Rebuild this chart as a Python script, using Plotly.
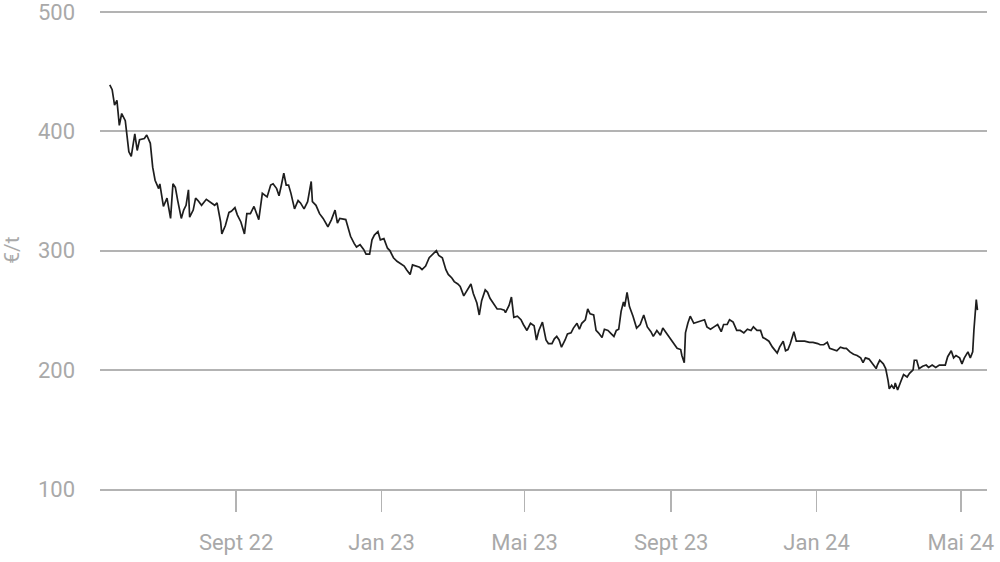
import plotly.graph_objects as go

dates = [
    "2022-05-18", "2022-05-20", "2022-05-22", "2022-05-24", "2022-05-26", "2022-05-28", "2022-05-31",
    "2022-06-03", "2022-06-05", "2022-06-08", "2022-06-10", "2022-06-12", "2022-06-16", "2022-06-18",
    "2022-06-21", "2022-06-23", "2022-06-25", "2022-06-28", "2022-06-29",
    "2022-07-02", "2022-07-05", "2022-07-08", "2022-07-10", "2022-07-12", "2022-07-14", "2022-07-17",
    "2022-07-19", "2022-07-21", "2022-07-23", "2022-07-24", "2022-07-27", "2022-07-29", "2022-07-31",
    "2022-08-03", "2022-08-07", "2022-08-10", "2022-08-14", "2022-08-16", "2022-08-19", "2022-08-20",
    "2022-08-23", "2022-08-26", "2022-08-28", "2022-08-31",
    "2022-09-02", "2022-09-05", "2022-09-08", "2022-09-10", "2022-09-13", "2022-09-16", "2022-09-18",
    "2022-09-20", "2022-09-23", "2022-09-27", "2022-09-30",
    "2022-10-02", "2022-10-05", "2022-10-07", "2022-10-09", "2022-10-11", "2022-10-13", "2022-10-15",
    "2022-10-17", "2022-10-20", "2022-10-23", "2022-10-25", "2022-10-28", "2022-10-31",
    "2022-11-03", "2022-11-04", "2022-11-07", "2022-11-10", "2022-11-13", "2022-11-17", "2022-11-20",
    "2022-11-23", "2022-11-25", "2022-11-27",
    "2022-12-02", "2022-12-06", "2022-12-09", "2022-12-11", "2022-12-14", "2022-12-17", "2022-12-19",
    "2022-12-22", "2022-12-24", "2022-12-26", "2022-12-29", "2022-12-31",
    "2023-01-03", "2023-01-06", "2023-01-08", "2023-01-11", "2023-01-14", "2023-01-17", "2023-01-20",
    "2023-01-22", "2023-01-25", "2023-01-27", "2023-01-31",
    "2023-02-02", "2023-02-04", "2023-02-07", "2023-02-10", "2023-02-12", "2023-02-16", "2023-02-18",
    "2023-02-21", "2023-02-24", "2023-02-26",
    "2023-03-01", "2023-03-03", "2023-03-06", "2023-03-08", "2023-03-11", "2023-03-14", "2023-03-17",
    "2023-03-19", "2023-03-22", "2023-03-24", "2023-03-26", "2023-03-29", "2023-03-31",
    "2023-04-02", "2023-04-05", "2023-04-08", "2023-04-11", "2023-04-14", "2023-04-15", "2023-04-18",
    "2023-04-20", "2023-04-22", "2023-04-25", "2023-04-28", "2023-04-30",
    "2023-05-03", "2023-05-06", "2023-05-09", "2023-05-11", "2023-05-13", "2023-05-16", "2023-05-19",
    "2023-05-21", "2023-05-24", "2023-05-26", "2023-05-28", "2023-05-30",
    "2023-06-01", "2023-06-04", "2023-06-06", "2023-06-09", "2023-06-11", "2023-06-14", "2023-06-16",
    "2023-06-18", "2023-06-21", "2023-06-23", "2023-06-25", "2023-06-28", "2023-06-30",
    "2023-07-02", "2023-07-05", "2023-07-07", "2023-07-10", "2023-07-13", "2023-07-15", "2023-07-17",
    "2023-07-19", "2023-07-21", "2023-07-23", "2023-07-24", "2023-07-26", "2023-07-28", "2023-07-31",
    "2023-08-03", "2023-08-06", "2023-08-09", "2023-08-12", "2023-08-15", "2023-08-17", "2023-08-20",
    "2023-08-23", "2023-08-25", "2023-08-28", "2023-08-31",
    "2023-09-03", "2023-09-06", "2023-09-09", "2023-09-10", "2023-09-12", "2023-09-13", "2023-09-15",
    "2023-09-17", "2023-09-20", "2023-09-23", "2023-09-26", "2023-09-29",
    "2023-10-01", "2023-10-04", "2023-10-07", "2023-10-10", "2023-10-13", "2023-10-15", "2023-10-18",
    "2023-10-20", "2023-10-23", "2023-10-26", "2023-10-29",
    "2023-11-01", "2023-11-04", "2023-11-07", "2023-11-09", "2023-11-12", "2023-11-15", "2023-11-17",
    "2023-11-19", "2023-11-22", "2023-11-25", "2023-11-28", "2023-11-29",
    "2023-12-01", "2023-12-04", "2023-12-06", "2023-12-08", "2023-12-10", "2023-12-13", "2023-12-15",
    "2023-12-19", "2023-12-22", "2023-12-26", "2023-12-29",
    "2024-01-02", "2024-01-04", "2024-01-07", "2024-01-10", "2024-01-12", "2024-01-15", "2024-01-18",
    "2024-01-21", "2024-01-24", "2024-01-26", "2024-01-29",
    "2024-02-01", "2024-02-04", "2024-02-07", "2024-02-09", "2024-02-11", "2024-02-14", "2024-02-17",
    "2024-02-20", "2024-02-21", "2024-02-23", "2024-02-26", "2024-02-28",
    "2024-03-01", "2024-03-02", "2024-03-04", "2024-03-06", "2024-03-07", "2024-03-09", "2024-03-12",
    "2024-03-14", "2024-03-17", "2024-03-19", "2024-03-22", "2024-03-23", "2024-03-25", "2024-03-27",
    "2024-03-30",
    "2024-04-02", "2024-04-04", "2024-04-07", "2024-04-10", "2024-04-13", "2024-04-16", "2024-04-18",
    "2024-04-20", "2024-04-23", "2024-04-25", "2024-04-27", "2024-04-30",
    "2024-05-02", "2024-05-04", "2024-05-07", "2024-05-09", "2024-05-11", "2024-05-12", "2024-05-14",
    "2024-05-15",
]

prices = [
    439, 435, 422, 426, 405, 415, 409,
    383, 379, 398, 384, 393, 394, 397,
    390, 370, 359, 352, 356,
    337, 344, 327, 356, 353, 342, 327,
    334, 338, 351, 328, 334, 344, 342,
    338, 343, 341, 338, 340, 324, 314,
    321, 332, 333, 336,
    330, 324, 314, 331, 331, 337, 332,
    326, 348, 345, 355,
    356, 352, 346, 355, 365, 355, 355,
    348, 335, 342, 340, 335, 341,
    358, 341, 338, 331, 327, 320, 326,
    334, 323, 327,
    326, 312, 306, 303, 305, 301, 297,
    297, 309, 313, 316, 309,
    310, 302, 300, 294, 291, 289, 287,
    284, 280, 288, 287,
    286, 284, 287, 294, 296, 300, 296,
    294, 284, 280,
    277, 274, 272, 270, 262, 267, 272,
    264, 256, 246, 258, 267, 265,
    260, 256, 251, 251, 250, 248, 254,
    261, 244, 245, 242, 238,
    233, 239, 237, 225, 233, 240, 225,
    222, 222, 226, 228, 225,
    219, 225, 230, 231, 235, 239, 234,
    239, 242, 251, 247, 246, 233,
    231, 227, 234, 233, 230, 228, 233,
    234, 249, 257, 253, 265, 253, 245,
    235, 238, 246, 236, 232, 228, 233,
    229, 235, 231, 226,
    222, 218, 217, 212, 206, 231, 239,
    245, 239, 240, 241, 242,
    236, 234, 236, 238, 232, 238, 238,
    242, 240, 233, 233,
    231, 234, 233, 236, 233, 233, 227,
    226, 224, 219, 215, 214,
    219, 224, 216, 217, 222, 232, 224,
    224, 224, 223, 223,
    222, 221, 221, 223, 218, 217, 216,
    219, 218, 218, 215,
    213, 212, 210, 206, 210, 209, 205,
    201, 204, 208, 205, 201,
    191, 184, 187, 184, 189, 183, 191,
    196, 194, 197, 200, 208, 208, 201,
    203,
    204, 202, 204, 202, 204, 204, 204,
    211, 216, 210, 212, 210,
    205, 210, 215, 210, 215, 233, 259,
    250,
]

tick_dates = ["2022-09-01", "2023-01-01", "2023-05-01", "2023-09-01", "2024-01-01", "2024-05-01"]
tick_labels = ["Sept 22", "Jan 23", "Mai 23", "Sept 23", "Jan 24", "Mai 24"]
y_ticks = [100, 200, 300, 400, 500]

GRID = "#b3b3b3"
TEXT = "#a9a9a9"
FONT = "Roboto, sans-serif"

fig = go.Figure()
fig.add_trace(go.Scatter(
    x=dates, y=prices, mode="lines",
    line=dict(color="#1e1e1e", width=1.7),
    showlegend=False, hoverinfo="skip",
))

fig.update_layout(
    width=1000, height=562,
    margin=dict(l=100, r=13, t=11, b=73, autoexpand=False),
    paper_bgcolor="white", plot_bgcolor="white",
    font=dict(family=FONT, color=TEXT, size=22),
)
fig.update_xaxes(
    type="date", automargin=False,
    range=["2022-05-09 19:00", "2024-05-23 00:00"],
    tickvals=tick_dates, ticktext=tick_labels,
    showgrid=False, zeroline=False,
    showline=True, linecolor=GRID, linewidth=2,
    ticks="outside", ticklen=21, tickwidth=1.5, tickcolor=GRID,
    ticklabelstandoff=12, ticklabeloverflow="allow",
    tickfont=dict(family=FONT, color=TEXT, size=22),
)
fig.update_yaxes(
    automargin=False,
    range=[100, 501],
    tickvals=y_ticks,
    showgrid=True, gridcolor=GRID, gridwidth=2,
    zeroline=False, showline=False,
    ticks="", ticklabelstandoff=24, ticklabeloverflow="allow",
    tickfont=dict(family=FONT, color=TEXT, size=22),
    title=dict(text="€/t", font=dict(family=FONT, color=TEXT, size=21), standoff=14),
)

# remove the browser's default 8px page margin so the figure fills the window exactly
fig.write_html(
    "out.html",
    config={"displayModeBar": False, "staticPlot": True},
    post_script="document.body.style.margin='0px';document.body.style.overflow='hidden';",
)
